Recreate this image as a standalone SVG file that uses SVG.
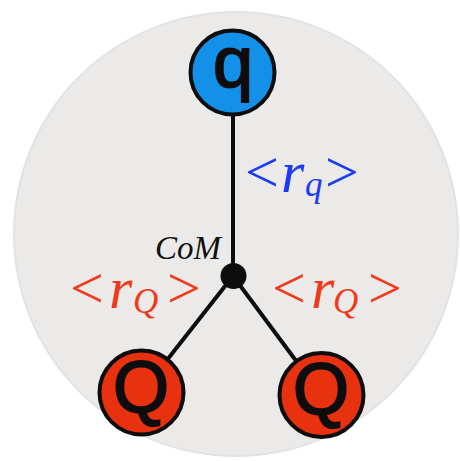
<svg xmlns="http://www.w3.org/2000/svg" width="460" height="461" viewBox="0 0 460 461">
<style>
.edge{stroke:#0d0d0d;stroke-width:4;fill:none}
.node{stroke:#0d0d0d;stroke-width:4}
.letter{font-family:"Liberation Sans",Arial,sans-serif;fill:#0d0d0d;stroke:#0d0d0d;stroke-width:2;text-anchor:middle}
.math{font-family:"Liberation Serif","Times New Roman",serif;font-style:italic;font-size:60px}
.rel{font-style:normal}
.sub{font-size:35px}
</style>
<rect width="460" height="461" fill="#ffffff"/>
<circle cx="236" cy="234" r="222" fill="#ebeae9" stroke="#e3e3e3" stroke-width="2"/>
<g id="connectors">
<line class="edge" x1="233" y1="116" x2="233" y2="276"/>
<line class="edge" x1="233" y1="276" x2="141.5" y2="392.5"/>
<line class="edge" x1="233" y1="276" x2="321.5" y2="395"/>
</g>
<g id="com">
<circle cx="233.5" cy="276" r="13" fill="#0d0d0d"/>
<text x="155" y="259" font-family="'Liberation Serif','Times New Roman',serif" font-style="italic" font-size="33" fill="#111">CoM</text>
</g>
<g id="node-q">
<circle class="node" cx="232.5" cy="72.5" r="42" fill="#1390e8"/>
<text class="letter" x="233" y="87" font-size="72">q</text>
</g>
<g id="node-Q1">
<circle class="node" cx="141.5" cy="392.5" r="42" fill="#e8310f"/>
<text class="letter" x="141" y="412" font-size="72">Q</text>
</g>
<g id="node-Q2">
<circle class="node" cx="321.5" cy="395" r="42" fill="#e8310f"/>
<text class="letter" x="321" y="414" font-size="72">Q</text>
</g>
<g id="label-rq">
<text class="math" y="192" fill="#1b3cf2"><tspan class="rel" x="245">&lt;</tspan><tspan x="281">r</tspan><tspan class="sub" x="305" y="196">q</tspan><tspan class="rel" x="325" y="192">&gt;</tspan></text>
</g>
<g id="label-rQ1">
<text class="math" y="308" fill="#f03a1e"><tspan class="rel" x="70">&lt;</tspan><tspan x="109">r</tspan><tspan class="sub" x="133" y="313">Q</tspan><tspan class="rel" x="167" y="308">&gt;</tspan></text>
</g>
<g id="label-rQ2">
<text class="math" y="308" fill="#f03a1e"><tspan class="rel" x="272">&lt;</tspan><tspan x="311">r</tspan><tspan class="sub" x="333" y="313">Q</tspan><tspan class="rel" x="368" y="308">&gt;</tspan></text>
</g>
</svg>
